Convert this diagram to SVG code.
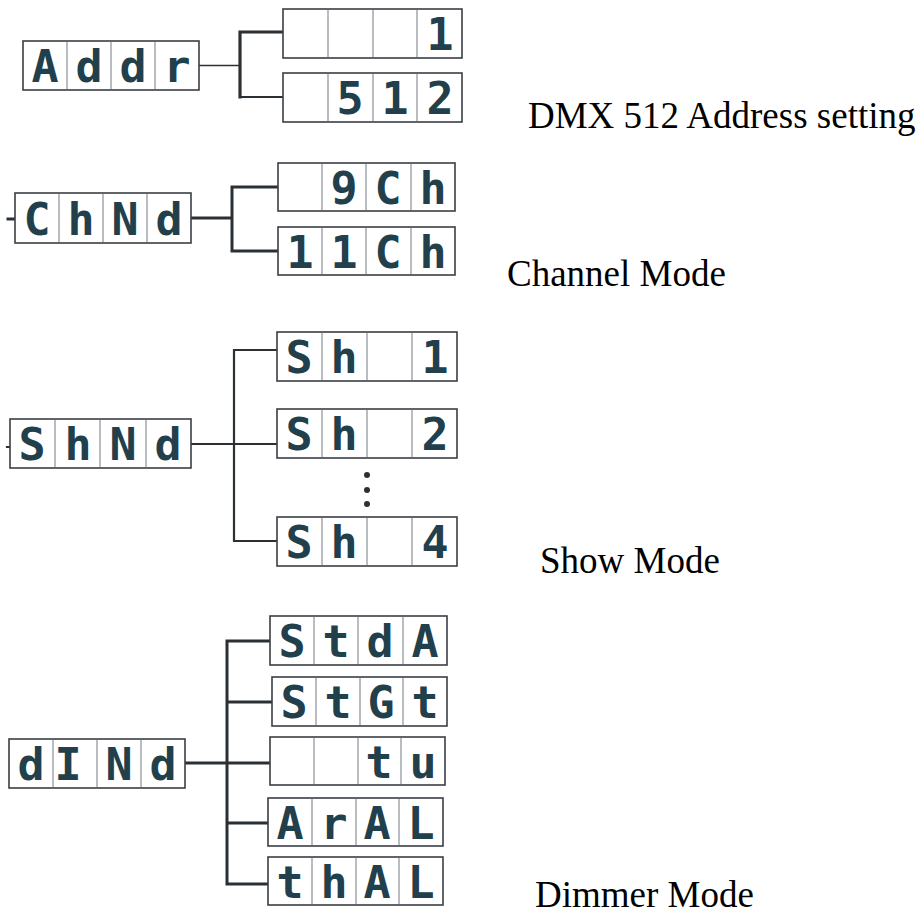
<svg xmlns="http://www.w3.org/2000/svg" width="924" height="917" viewBox="0 0 924 917">
<style>
.box{fill:#fff;stroke:#3a3f44;stroke-width:1.6}
.div{stroke:#b9bdc1;stroke-width:2}
.seg{font-family:"DejaVu Sans Mono",monospace;font-weight:bold;font-size:45px;fill:#21404c;text-anchor:middle}
.lbl{font-family:"Liberation Serif","Times New Roman",serif;font-size:37px;fill:#000}
.ln{fill:none;stroke:#2b3034;stroke-linecap:square}
</style>
<rect width="924" height="917" fill="#fff"/>
<g id="connectors">
<path class="ln" stroke-width="1.6" d="M199,65.5 H240"/>
<path class="ln" stroke-width="3.2" d="M283,32 H240 V97"/>
<path class="ln" stroke-width="2" d="M240,97 H283"/>
<path class="ln" stroke-width="3" d="M8,219 H15 M191,218 H232 M278,187 H232 V251 H278"/>
<path class="ln" stroke-width="2.2" d="M7,447 H10 M191,444 H277 M277,350 H234 V541 H277"/>
<path class="ln" stroke-width="3" d="M185,763 H227 M270,641 H227 V884 H268 M227,702 H272 M227,763 H270 M227,823 H268"/>
<circle cx="367" cy="475" r="3" fill="#2b3034"/>
<circle cx="367" cy="490" r="3" fill="#2b3034"/>
<circle cx="367" cy="504" r="3" fill="#2b3034"/>
</g>
<g id="addr">
<rect class="box" x="23" y="41" width="176" height="49"/>
<path class="div" d="M67,42 V89 M111,42 V89 M155,42 V89"/>
<text class="seg" x="45 89 133 177" y="82">Addr</text>
</g>
<g id="addr-1">
<rect class="box" x="283" y="9" width="179" height="49"/>
<path class="div" d="M328,10 V57 M373,10 V57 M417,10 V57"/>
<text class="seg" x="440" y="50">1</text>
</g>
<g id="addr-512">
<rect class="box" x="283" y="73" width="179" height="49"/>
<path class="div" d="M328,74 V121 M373,74 V121 M417,74 V121"/>
<text class="seg" x="350 395 440" y="114">512</text>
</g>
<g id="chnd">
<rect class="box" x="15" y="193" width="176" height="50"/>
<path class="div" d="M59,194 V242 M103,194 V242 M147,194 V242"/>
<text class="seg" x="37 81 125 169" y="235">ChNd</text>
</g>
<g id="ch-9">
<rect class="box" x="278" y="163" width="177" height="48"/>
<path class="div" d="M322,164 V210 M366,164 V210 M411,164 V210"/>
<text class="seg" x="344 388 433" y="204">9Ch</text>
</g>
<g id="ch-11">
<rect class="box" x="278" y="227" width="177" height="48"/>
<path class="div" d="M322,228 V274 M366,228 V274 M411,228 V274"/>
<text class="seg" x="300 344 388 433" y="268">11Ch</text>
</g>
<g id="shnd">
<rect class="box" x="10" y="419" width="181" height="49"/>
<path class="div" d="M55,420 V467 M100,420 V467 M146,420 V467"/>
<text class="seg" x="32 78 123 168" y="460">ShNd</text>
</g>
<g id="sh-1">
<rect class="box" x="277" y="332" width="180" height="49"/>
<path class="div" d="M322,333 V380 M367,333 V380 M412,333 V380"/>
<text class="seg" x="299 344 435" y="373">Sh1</text>
</g>
<g id="sh-2">
<rect class="box" x="277" y="409" width="180" height="49"/>
<path class="div" d="M322,410 V457 M367,410 V457 M412,410 V457"/>
<text class="seg" x="299 344 435" y="450">Sh2</text>
</g>
<g id="sh-4">
<rect class="box" x="277" y="517" width="180" height="49"/>
<path class="div" d="M322,518 V565 M367,518 V565 M412,518 V565"/>
<text class="seg" x="299 344 435" y="558">Sh4</text>
</g>
<g id="dind">
<rect class="box" x="9" y="739" width="176" height="49"/>
<path class="div" d="M53,740 V787 M97,740 V787 M141,740 V787"/>
<text class="seg" x="31 68 119 163" y="780">dINd</text>
</g>
<g id="dim-stda">
<rect class="box" x="270" y="616" width="177" height="49"/>
<path class="div" d="M314,617 V664 M358,617 V664 M403,617 V664"/>
<text class="seg" x="292 336 380 425" y="657">StdA</text>
</g>
<g id="dim-stgt">
<rect class="box" x="272" y="677" width="175" height="49"/>
<path class="div" d="M316,678 V725 M360,678 V725 M403,678 V725"/>
<text class="seg" x="294 338 381 425" y="718">StGt</text>
</g>
<g id="dim-tu">
<rect class="box" x="270" y="737" width="175" height="48"/>
<path class="div" d="M314,738 V784 M358,738 V784 M401,738 V784"/>
<text class="seg" x="379 423" y="778">tu</text>
</g>
<g id="dim-aral">
<rect class="box" x="268" y="798" width="175" height="48"/>
<path class="div" d="M312,799 V845 M356,799 V845 M399,799 V845"/>
<text class="seg" x="290 334 377 421" y="839">ArAL</text>
</g>
<g id="dim-thal">
<rect class="box" x="268" y="857" width="175" height="48"/>
<path class="div" d="M312,858 V904 M356,858 V904 M399,858 V904"/>
<text class="seg" x="290 334 377 421" y="898">thAL</text>
</g>
<g id="labels">
<text class="lbl" x="528" y="128">DMX 512 Address setting</text>
<text class="lbl" x="507" y="286">Channel Mode</text>
<text class="lbl" x="540" y="573">Show Mode</text>
<text class="lbl" x="535" y="907">Dimmer Mode</text>
</g>
</svg>
